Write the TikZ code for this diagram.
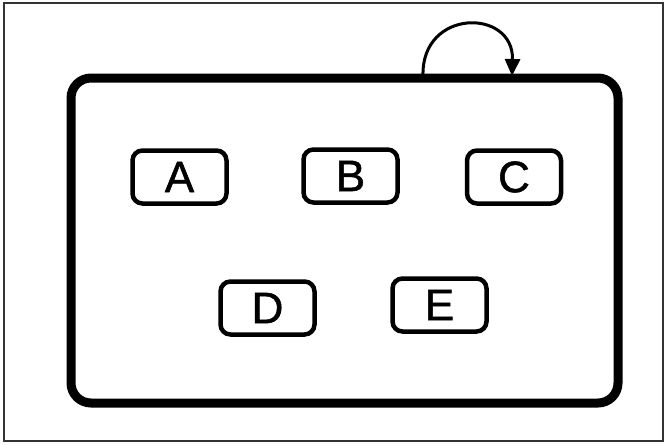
\documentclass[tikz,border=0pt]{standalone}
\usepackage{fontspec}
\setmainfont{Liberation Sans}
\usetikzlibrary{arrows.meta}
\begin{document}
\begin{tikzpicture}[x=1pt,y=-1pt,
  frame/.style={draw=black!80,line width=1.5pt},
  bigbox/.style={draw,line width=9pt,rounded corners=20pt,minimum width=547pt,minimum height=325pt,inner sep=0pt},
  smallbox/.style={draw,line width=4.5pt,rounded corners=10pt,minimum width=94pt,minimum height=53pt,inner sep=0pt,font=\fontsize{44}{44}\selectfont\addfontfeature{FakeBold=1.2}},
  loopline/.style={line width=3pt,-{Triangle[width=15pt,length=17pt]}}]
\useasboundingbox (0,0) rectangle (666,444);
\draw[frame] (4,3) rectangle (663,441);
\node[bigbox] (sys) at (344.5,240.5) {};
\node[smallbox] (A) at (179.5,177) {A};
\node[smallbox] (B) at (350.5,176) {B};
\node[smallbox] (C) at (514,177) {C};
\node[smallbox] (D) at (267.5,308) {D};
\node[smallbox] (E) at (439.5,305) {E};
\coordinate (ls) at (423,76);
\coordinate (le) at (512,76);
\draw[loopline] (ls) .. controls (421,8) and (514,8) .. (le);
\end{tikzpicture}
\end{document}
